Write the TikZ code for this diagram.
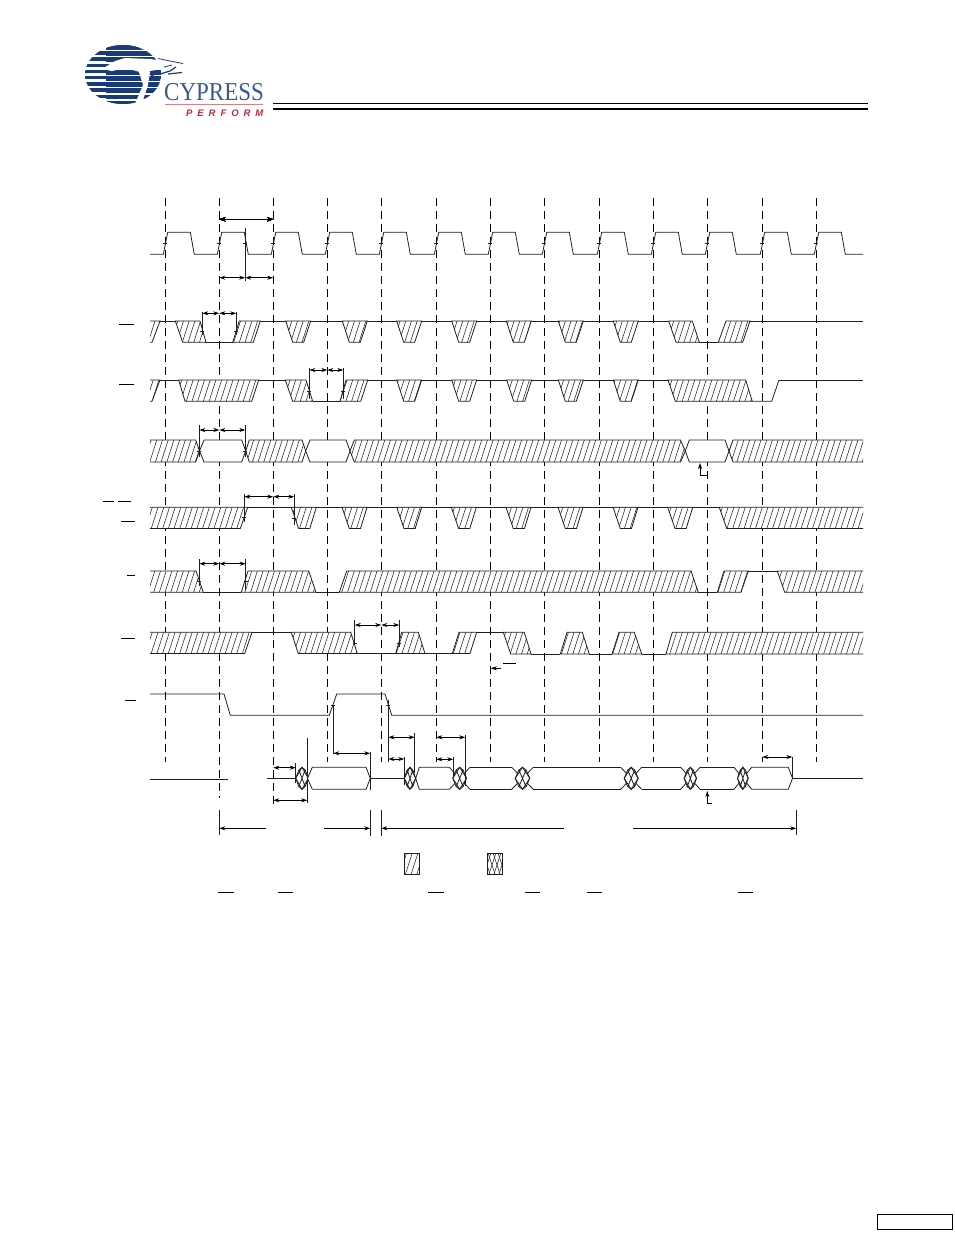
\documentclass[tikz,border=0pt]{standalone}
\usepackage{fontspec}
\usepackage{tikz}
\usetikzlibrary{arrows.meta}
\definecolor{cypblue}{RGB}{27, 58, 120}
\definecolor{perfred}{RGB}{190, 40, 55}
\newfontfamily\cypfont{Liberation Serif}
\newfontfamily\perffont[LetterSpace=52]{Liberation Sans}
\tikzset{
  sig/.style={line width=0.8pt, line join=miter, black!88},
  guide/.style={line width=0.75pt, dash pattern=on 8pt off 5pt},
  span/.style={line width=0.9pt, {Stealth[length=6pt,width=4pt]}-{Stealth[length=6pt,width=4pt]}},
  stopper/.style={line width=0.9pt, -{Stealth[length=6pt,width=4pt]}},
  bar/.style={line width=0.7pt},
  hatchfill/.style={sig, fill=white, path picture={
    \foreach \h in {-150,-144.3,...,863}
      \draw[line width=0.55pt, black!85] (\h,900) -- (\h+288,0);}},
  crossfill/.style={sig, fill=white, path picture={
    \foreach \h in {-10,-5,...,40} {
      \draw[line width=0.5pt, black!85] (380+\h,880) -- (380+\h+10,850) (487+\h-20,880) -- (487+\h-10,850);
      \draw[line width=0.5pt, black!85] (487+\h,880) -- (487+\h-10,850);}}}
}
% marks on an edge
\newcommand{\edgetick}[2]{\draw[sig] (#1-2,#2) -- (#1+2,#2);}
% diamond lattice on the bus
\newcommand{\lensblob}[2]{
  \pgfmathsetmacro{\lm}{(#1+#2)/2}
  \pgfmathsetmacro{\la}{(3*#1+#2)/4}
  \pgfmathsetmacro{\lb}{(#1+3*#2)/4}
  \draw[sig, fill=white] (#1,778.3) -- (\la,770) -- (\lm,767.3) -- (\lb,770) -- (#2,778.3) -- (\lb,786.6) -- (\lm,789.3) -- (\la,786.6) -- cycle;
  \draw[sig] (\la,770) -- (\lb,786.6) (\la,786.6) -- (\lb,770) (#1,778.3) -- (\lm,767.3) -- (#2,778.3) -- (\lm,789.3) -- cycle;
}
\newcommand{\xblob}[2]{
  \draw[sig] (#1,767.3) -- (#2,789.3) (#1,789.3) -- (#2,767.3);
  \pgfmathsetmacro{\xa}{#1+3.5}
  \pgfmathsetmacro{\xb}{#2-3.5}
  \lensblob{\xa}{\xb}
}
\begin{document}
\begin{tikzpicture}[x=1pt, y=-1pt]
  \useasboundingbox (0,0) rectangle (954,1235);

  % Logo
  \begin{scope}
    \clip (123,74.5) ellipse (38 and 29.5);
    \foreach \s in {45,51.2,...,105} {
      \fill[cypblue] (80,\s) rectangle (165,\s+3.4);
      \fill[cypblue] (106,\s) rectangle (165,\s+4.8);
    }
  \end{scope}
  \fill[white] (102,69) -- (115,61) -- (125,58) -- (150,59) -- (165,61) -- (183,64) -- (172,66) -- (162,69) -- (150,71) -- (147,74) -- (140,72) -- (125,68) -- (112,71) -- cycle;
  \fill[white] (139,72) -- (150,72) -- (148,85) -- (141,106) -- (134,106) -- (143,85) -- cycle;
  \draw[cypblue, line width=0.8pt] (158,58.5) -- (170,61) -- (183,63.5) (172,65) -- (164,67);
  \draw[cypblue, line width=1.2pt] (160,74) -- (170,71) -- (176,67) (151,76) -- (158,73) (168,74) -- (182,72.5);
  \node[inner sep=0pt, anchor=base west, font=\cypfont\fontsize{23}{23}\selectfont, text=cypblue!85, yscale=1.12] (cypname) at (164,100.5) {CYPRESS};
  \draw[perfred!60, line width=0.6pt] (165,104.5) -- (263,104.5);
  \node[inner sep=0pt, anchor=base west, font=\perffont\bfseries\itshape\fontsize{9.5}{9.5}\selectfont, text=perfred] (perfname) at (186,116.5) {PERFORM};

  % Header rules
  \draw[line width=1pt] (273,103.3) -- (868,103.3);
  \draw[line width=2pt] (273,109) -- (868,109);

  % Clock guides
  \foreach \x in {165.3,327.3,381.3,436.3,490.3,544.3,599.3,653.3,707.3,762.3,816.3}
    \draw[guide] (\x,198) -- (\x,762);
  \draw[guide] (219.3,198) -- (219.3,798);
  \draw[guide] (273.3,198) -- (273.3,804);

  % Clock
  \draw[sig] (150,254.3) foreach \x in {165.3,219.3,273.3,327.3,381.3,436.3,490.3,544.3,599.3,653.3,707.3,762.3,816.3} {
    -- (\x-2,254.3) -- (\x+2.4,232.3) -- (\x+25,232.3) -- (\x+29,254.3) } -- (863,254.3);
  \foreach \x in {165.3,219.3,245.3,273.3,327.3,381.3,436.3,490.3,544.3,599.3,653.3,707.3,762.3,816.3}
    \edgetick{\x}{243.3}
  \draw[span] (219.3,219.3) -- (273.3,219.3);
  \draw[sig] (245.3,228) -- (245.3,281);
  \draw[span] (219.3,277.7) -- (245.3,277.7);
  \draw[span] (245.3,277.7) -- (273.3,277.7);

  % First select
  \draw[bar] (119,324) -- (133.7,324);
  \draw[hatchfill] (150,321) -- (160,321) -- (152,342.3) -- (150,342.3);
  \draw[sig] (160,321) -- (175.3,321) (239.3,321) -- (692.3,321) (750,321) -- (863,321);
  \draw[hatchfill] (175.3,321) -- (200,321) -- (206,342.3) -- (182.7,342.3) -- cycle;
  \draw[hatchfill] (232.7,342.3) -- (239.3,321) -- (260.3,321) -- (253.3,342.3) -- cycle;
  \draw[sig] (206,342.3) -- (232.7,342.3);
  \foreach \xs in {285.7,342.3,396.7,451.7,506.3,558.3,613.3}
    \draw[hatchfill] (\xs,321) -- (\xs+25,321) -- (\xs+18,342.3) -- (\xs+7,342.3) -- cycle;
  \draw[hatchfill] (668.7,321) -- (692.3,321) -- (699.3,342.3) -- (676,342.3) -- cycle;
  \draw[sig] (699.3,342.3) -- (718.3,342.3);
  \draw[hatchfill] (718.3,342.3) -- (726,321) -- (750,321) -- (742.7,342.3) -- cycle;
  \draw[sig] (202.3,311.7) -- (202.3,335) (236.3,311.7) -- (236.3,335);
  \draw[span] (202.3,313.3) -- (219.3,313.3);
  \draw[span] (219.3,313.3) -- (236.3,313.3);
  \edgetick{202.3}{331.3}
  \edgetick{236.3}{331.3}

  % Second select
  \draw[bar] (119,384.3) -- (133.7,384.3);
  \draw[hatchfill] (150,380) -- (160,380) -- (152,401.3) -- (150,401.3);
  \draw[sig] (160,380) -- (178.7,380) (258.7,380) -- (285.3,380) (367.7,380) -- (668,380) (779,380) -- (863,380);
  \draw[hatchfill] (178.7,380) -- (258.7,380) -- (251.7,401.3) -- (185,401.3) -- cycle;
  \draw[hatchfill] (285.3,380) -- (306,380) -- (312.7,401.3) -- (292.7,401.3) -- cycle;
  \draw[sig] (312.7,401.3) -- (340,401.3);
  \draw[hatchfill] (340,401.3) -- (346,380) -- (367.7,380) -- (360.7,401.3) -- cycle;
  \foreach \xs in {396.7,451.7,506.7,558.3,613.3}
    \draw[hatchfill] (\xs,380) -- (\xs+25,380) -- (\xs+18,401.3) -- (\xs+7,401.3) -- cycle;
  \draw[hatchfill] (668,380) -- (745.7,380) -- (752.3,401.3) -- (675.3,401.3) -- cycle;
  \draw[sig] (752.3,401.3) -- (771.7,401.3) -- (779,380);
  \draw[sig] (309.3,368) -- (309.3,399) (343.3,368) -- (343.3,399);
  \draw[span] (309.3,370) -- (327.3,370);
  \draw[span] (327.3,370) -- (343.3,370);
  \edgetick{309.3}{391.3}
  \edgetick{343.3}{391.3}

  % Address
  \draw[hatchfill] (150,440) -- (195.7,440) -- (199.5,451) -- (195.7,462) -- (150,462);
  \draw[sig, fill=white] (199.5,451) -- (204,440) -- (241.7,440) -- (245.7,451) -- (241.7,462) -- (204,462) -- cycle;
  \draw[hatchfill] (245.7,451) -- (249.3,440) -- (302,440) -- (305.7,451) -- (302,462) -- (249.3,462) -- cycle;
  \draw[sig, fill=white] (305.7,451) -- (310,440) -- (346,440) -- (350,451) -- (346,462) -- (310,462) -- cycle;
  \draw[hatchfill] (350,451) -- (354.3,440) -- (680.5,440) -- (685.3,451) -- (680.5,462) -- (354.3,462) -- cycle;
  \draw[sig, fill=white] (685.3,451) -- (689.3,440) -- (725,440) -- (729,451) -- (725,462) -- (689.3,462) -- cycle;
  \draw[hatchfill] (863,440) -- (733,440) -- (729,451) -- (733,462) -- (863,462);
  \draw[sig] (199.3,425) -- (199.3,457) (245.3,425) -- (245.3,457);
  \draw[span] (199.3,430) -- (219.3,430);
  \draw[span] (219.3,430) -- (245.3,430);
  \edgetick{199.3}{451}
  \edgetick{245.3}{451}
  \draw[stopper] (707,475) -- (700,475) -- (700,463);

  % Strobe
  \draw[bar] (103.3,501.3) -- (114.3,501.3) (118.3,501.3) -- (130.7,501.3);
  \draw[bar] (121,521.3) -- (134.7,521.3);
  \draw[hatchfill] (150,507.3) -- (247.7,507.3) -- (240.3,528.5) -- (150,528.5);
  \draw[sig] (247.7,507.3) -- (719.3,507.3);
  \foreach \xs in {291.3,342,396.7,451.3,506,558,613,667.7}
    \draw[hatchfill] (\xs,507.3) -- (\xs+25,507.3) -- (\xs+18.5,528.5) -- (\xs+7.3,528.5) -- cycle;
  \draw[hatchfill] (863,507.3) -- (719.3,507.3) -- (726.7,528.5) -- (863,528.5);
  \draw[sig] (244.3,494) -- (244.3,521.7) (294.3,494) -- (294.3,525);
  \draw[span] (244.3,496.7) -- (273.3,496.7);
  \draw[span] (273.3,496.7) -- (294.3,496.7);
  \edgetick{244.3}{517.7}
  \edgetick{294.3}{518}

  % Read
  \draw[bar] (127.3,575.7) -- (134.7,575.7);
  \draw[hatchfill] (150,571) -- (196,571) -- (203.3,592.3) -- (150,592.3);
  \draw[sig] (203.3,592.3) -- (241.3,592.3);
  \draw[hatchfill] (241.3,592.3) -- (248,571) -- (308.7,571) -- (316,592.3) -- cycle;
  \draw[sig] (316,592.3) -- (339.3,592.3);
  \draw[hatchfill] (339.3,592.3) -- (346.7,571) -- (691,571) -- (698.3,592.3) -- cycle;
  \draw[sig] (698.3,592.3) -- (717.3,592.3);
  \draw[hatchfill] (717.3,592.3) -- (724,571) -- (748.3,571) -- (741,592.3) -- cycle;
  \draw[sig] (748.3,571) -- (777.3,571);
  \draw[hatchfill] (863,571) -- (777.3,571) -- (784.7,592.3) -- (863,592.3);
  \draw[sig] (199.3,559.3) -- (199.3,586) (245.7,559.3) -- (245.7,590);
  \draw[span] (199.3,563.7) -- (219.3,563.7);
  \draw[span] (219.3,563.7) -- (245.7,563.7);
  \edgetick{199.3}{581}
  \edgetick{245.7}{581}

  % Write
  \draw[bar] (121,638.3) -- (134.7,638.3);
  \draw[hatchfill] (150,632.3) -- (252,632.3) -- (244.7,653.5) -- (150,653.5);
  \draw[sig] (252,632.3) -- (291.3,632.3);
  \draw[hatchfill] (291.3,632.3) -- (350.7,632.3) -- (357.3,653.5) -- (298.3,653.5) -- cycle;
  \draw[sig] (357.3,653.5) -- (395.7,653.5);
  \draw[hatchfill] (395.7,653.5) -- (401.7,632.3) -- (418.3,632.3) -- (425,653.5) -- cycle;
  \draw[sig] (425,653.5) -- (452.3,653.5);
  \draw[hatchfill] (452.3,653.5) -- (459,632.3) -- (476.7,632.3) -- (470,653.5) -- cycle;
  \draw[sig] (476.7,632.3) -- (503.3,632.3);
  \draw[hatchfill] (503.3,632.3) -- (524.3,632.3) -- (531,654) -- (510.7,654) -- cycle;
  \draw[sig] (531,654) -- (560.3,654);
  \draw[hatchfill] (560.3,654) -- (567,632.3) -- (582.3,632.3) -- (589.3,654) -- cycle;
  \draw[sig] (589.3,654) -- (612,654);
  \draw[hatchfill] (612,654) -- (619,632.3) -- (634.3,632.3) -- (641.7,654) -- cycle;
  \draw[sig] (641.7,654) -- (666,654);
  \draw[hatchfill] (863,632.3) -- (672.3,632.3) -- (666,654) -- (863,654);
  \draw[sig] (354.7,620) -- (354.7,645) (399.3,620) -- (399.3,646.7);
  \draw[span] (354.7,625) -- (381.3,625);
  \draw[span] (381.3,625) -- (399.3,625);
  \edgetick{354.7}{643}
  \edgetick{399.3}{643}
  \draw[bar] (503.3,663.3) -- (516,663.3);
  \draw[stopper] (501,668.3) -- (490.8,668.3);

  % Output enable
  \draw[bar] (125,700) -- (135.7,700);
  \draw[sig] (150,694) -- (224,694) -- (230.3,715.3) -- (329.3,715.3) -- (336.7,694) -- (385,694) -- (391.7,715.3) -- (863,715.3);
  \draw[sig] (333.3,705) -- (333.3,754) (388.3,700) -- (388.3,762);
  \edgetick{333.3}{705}
  \edgetick{388.3}{705}

  % Data bus
  \draw[sig] (150,779.3) -- (228,779.3);
  \draw[sig] (267,778.3) -- (295.7,778.3);
  \draw[sig] (295.7,763.3) -- (295.7,783);
  \lensblob{295.7}{308.3}
  \draw[sig] (307.3,738.3) -- (307.3,802.7);
  \draw[sig, fill=white] (307.5,778.3) -- (312.3,767.3) -- (366,767.3) -- (370.3,778.3) -- (366,789.3) -- (312.3,789.3) -- cycle;
  \draw[sig] (370.3,778.3) -- (404.3,778.3);
  \draw[sig] (404.3,757.3) -- (404.3,785);
  \lensblob{404.3}{415.7}
  \draw[sig] (414.7,732.7) -- (414.7,773);
  \draw[sig] (415.7,778.3) -- (419.3,767.3) -- (449.3,767.3) (415.7,778.3) -- (419.3,789.3) -- (449.3,789.3);
  \xblob{449.3}{470}
  \draw[sig] (453.3,757.3) -- (453.3,777) (465.3,735) -- (465.3,786);
  \draw[sig] (470,767.3) -- (511.7,767.3) (470,789.3) -- (511.7,789.3);
  \xblob{511.7}{533.3}
  \draw[sig] (533.3,767.3) -- (620.7,767.3) (533.3,789.3) -- (620.7,789.3);
  \xblob{620.7}{641.7}
  \draw[sig] (641.7,767.3) -- (680.7,767.3) (641.7,789.3) -- (680.7,789.3);
  \xblob{680.7}{700}
  \draw[sig] (700,767.3) -- (734,767.3) (700,789.3) -- (734,789.3);
  \xblob{734}{751.7}
  \draw[sig] (751.7,767.3) -- (788.3,767.3) -- (792.5,778.3) -- (788.3,789.3) -- (751.7,789.3);
  \draw[sig] (792.5,778.3) -- (863,778.3) (792.3,756.7) -- (792.3,778);
  \draw[sig] (370.3,752) -- (370.3,790);
  \draw[stopper] (712,803) -- (707.3,803) -- (707.3,791);
  \draw[span] (273.3,767.7) -- (295.7,767.7);
  \draw[span] (273.3,800.3) -- (307.3,800.3);
  \draw[span] (333.3,753.3) -- (370.3,753.3);
  \draw[span] (388.3,737.3) -- (414.7,737.3);
  \draw[span] (388.3,759) -- (404.3,759);
  \draw[span] (436.3,737.3) -- (465.3,737.3);
  \draw[span] (436.3,759.3) -- (453.3,759.3);
  \draw[span] (762.3,757) -- (792.3,757);

  % Cycle brackets
  \draw[sig] (219.3,810) -- (219.3,835) (370.3,810) -- (370.3,836) (381.3,810) -- (381.3,836) (796.3,810) -- (796.3,835);
  \draw[stopper] (266,828.3) -- (219.3,828.3);
  \draw[stopper] (324,828.3) -- (370.3,828.3);
  \draw[stopper] (564,828.3) -- (381.3,828.3);
  \draw[stopper] (633,828.3) -- (796.3,828.3);

  % Legend
  \draw[hatchfill, line width=1pt] (404.3,853.3) rectangle (419.7,874.3);
  \draw[crossfill, line width=1pt] (487.3,853.3) rectangle (502.7,874.3);
  \foreach \xa/\xb in {218/234,278/293,428/444,525/540.3,587/602,738/753}
    \draw[bar] (\xa,892.3) -- (\xb,892.3);

  % Footer box
  \draw[line width=1.1pt] (877.3,1214.3) rectangle (952.3,1229.7);
\end{tikzpicture}
\end{document}
